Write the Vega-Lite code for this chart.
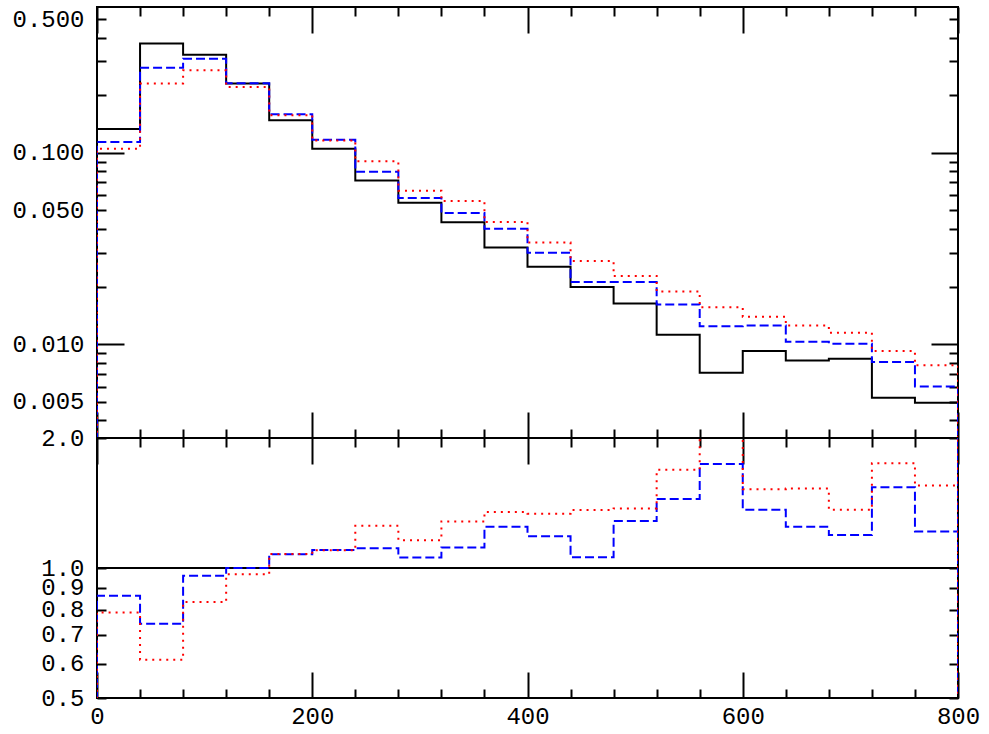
{
  "$schema": "https://vega.github.io/schema/vega-lite/v6.json",
  "padding": {"left": 10, "top": 5, "right": 0, "bottom": 0},
  "autosize": {"type": "pad"},
  "background": "white",
  "spacing": 0,
  "bounds": "flush",
  "config": {
    "view": {"stroke": "black", "strokeWidth": 2},
    "axis": {
      "labelFont": "Liberation Mono",
      "labelFontSize": 24,
      "labelColor": "black",
      "domain": false,
      "grid": false,
      "tickColor": "black",
      "tickWidth": 2,
      "labelOverlap": false,
      "labelFlush": false,
      "title": null
    }
  },
  "datasets": {
    "hist": [
      {"s": "data", "i": 0, "x": 0, "v": 0.0001},
      {"s": "data", "i": 1, "x": 0, "v": 0.133},
      {"s": "data", "i": 2, "x": 40, "v": 0.373},
      {"s": "data", "i": 3, "x": 80, "v": 0.325},
      {"s": "data", "i": 4, "x": 120, "v": 0.23},
      {"s": "data", "i": 5, "x": 160, "v": 0.148},
      {"s": "data", "i": 6, "x": 200, "v": 0.105},
      {"s": "data", "i": 7, "x": 240, "v": 0.0717},
      {"s": "data", "i": 8, "x": 280, "v": 0.0548},
      {"s": "data", "i": 9, "x": 320, "v": 0.0433},
      {"s": "data", "i": 10, "x": 360, "v": 0.032},
      {"s": "data", "i": 11, "x": 400, "v": 0.0254},
      {"s": "data", "i": 12, "x": 440, "v": 0.0199},
      {"s": "data", "i": 13, "x": 480, "v": 0.0163},
      {"s": "data", "i": 14, "x": 520, "v": 0.0112},
      {"s": "data", "i": 15, "x": 560, "v": 0.00708},
      {"s": "data", "i": 16, "x": 600, "v": 0.00919},
      {"s": "data", "i": 17, "x": 640, "v": 0.00822},
      {"s": "data", "i": 18, "x": 680, "v": 0.00838},
      {"s": "data", "i": 19, "x": 720, "v": 0.00524},
      {"s": "data", "i": 20, "x": 760, "v": 0.00493},
      {"s": "data", "i": 21, "x": 800, "v": 0.00493},
      {"s": "data", "i": 22, "x": 800, "v": 0.0001},
      {"s": "model A", "i": 0, "x": 0, "v": 0.0001},
      {"s": "model A", "i": 1, "x": 0, "v": 0.1137},
      {"s": "model A", "i": 2, "x": 40, "v": 0.278},
      {"s": "model A", "i": 3, "x": 80, "v": 0.31},
      {"s": "model A", "i": 4, "x": 120, "v": 0.231},
      {"s": "model A", "i": 5, "x": 160, "v": 0.159},
      {"s": "model A", "i": 6, "x": 200, "v": 0.117},
      {"s": "model A", "i": 7, "x": 240, "v": 0.0796},
      {"s": "model A", "i": 8, "x": 280, "v": 0.058},
      {"s": "model A", "i": 9, "x": 320, "v": 0.0484},
      {"s": "model A", "i": 10, "x": 360, "v": 0.0401},
      {"s": "model A", "i": 11, "x": 400, "v": 0.03},
      {"s": "model A", "i": 12, "x": 440, "v": 0.0211},
      {"s": "model A", "i": 13, "x": 480, "v": 0.0211},
      {"s": "model A", "i": 14, "x": 520, "v": 0.0161},
      {"s": "model A", "i": 15, "x": 560, "v": 0.01238},
      {"s": "model A", "i": 16, "x": 600, "v": 0.0125},
      {"s": "model A", "i": 17, "x": 640, "v": 0.01028},
      {"s": "model A", "i": 18, "x": 680, "v": 0.01004},
      {"s": "model A", "i": 19, "x": 720, "v": 0.00805},
      {"s": "model A", "i": 20, "x": 760, "v": 0.00601},
      {"s": "model A", "i": 21, "x": 800, "v": 0.00601},
      {"s": "model A", "i": 22, "x": 800, "v": 0.0001},
      {"s": "model B", "i": 0, "x": 0, "v": 0.0001},
      {"s": "model B", "i": 1, "x": 0, "v": 0.105},
      {"s": "model B", "i": 2, "x": 40, "v": 0.23},
      {"s": "model B", "i": 3, "x": 80, "v": 0.27},
      {"s": "model B", "i": 4, "x": 120, "v": 0.2205},
      {"s": "model B", "i": 5, "x": 160, "v": 0.157},
      {"s": "model B", "i": 6, "x": 200, "v": 0.116},
      {"s": "model B", "i": 7, "x": 240, "v": 0.0902},
      {"s": "model B", "i": 8, "x": 280, "v": 0.0633},
      {"s": "model B", "i": 9, "x": 320, "v": 0.0559},
      {"s": "model B", "i": 10, "x": 360, "v": 0.0435},
      {"s": "model B", "i": 11, "x": 400, "v": 0.034},
      {"s": "model B", "i": 12, "x": 440, "v": 0.0272},
      {"s": "model B", "i": 13, "x": 480, "v": 0.0227},
      {"s": "model B", "i": 14, "x": 520, "v": 0.01886},
      {"s": "model B", "i": 15, "x": 560, "v": 0.01556},
      {"s": "model B", "i": 16, "x": 600, "v": 0.0139},
      {"s": "model B", "i": 17, "x": 640, "v": 0.0125},
      {"s": "model B", "i": 18, "x": 680, "v": 0.01146},
      {"s": "model B", "i": 19, "x": 720, "v": 0.00919},
      {"s": "model B", "i": 20, "x": 760, "v": 0.00775},
      {"s": "model B", "i": 21, "x": 800, "v": 0.00775},
      {"s": "model B", "i": 22, "x": 800, "v": 0.0001}
    ],
    "ratio": [
      {"s": "model A", "i": 0, "x": 0, "r": 0.1},
      {"s": "model A", "i": 1, "x": 0, "r": 0.862},
      {"s": "model A", "i": 2, "x": 40, "r": 0.743},
      {"s": "model A", "i": 3, "x": 80, "r": 0.96},
      {"s": "model A", "i": 4, "x": 120, "r": 1.0},
      {"s": "model A", "i": 5, "x": 160, "r": 1.076},
      {"s": "model A", "i": 6, "x": 200, "r": 1.101},
      {"s": "model A", "i": 7, "x": 240, "r": 1.111},
      {"s": "model A", "i": 8, "x": 280, "r": 1.057},
      {"s": "model A", "i": 9, "x": 320, "r": 1.115},
      {"s": "model A", "i": 10, "x": 360, "r": 1.246},
      {"s": "model A", "i": 11, "x": 400, "r": 1.185},
      {"s": "model A", "i": 12, "x": 440, "r": 1.059},
      {"s": "model A", "i": 13, "x": 480, "r": 1.284},
      {"s": "model A", "i": 14, "x": 520, "r": 1.445},
      {"s": "model A", "i": 15, "x": 560, "r": 1.74},
      {"s": "model A", "i": 16, "x": 600, "r": 1.365},
      {"s": "model A", "i": 17, "x": 640, "r": 1.246},
      {"s": "model A", "i": 18, "x": 680, "r": 1.193},
      {"s": "model A", "i": 19, "x": 720, "r": 1.538},
      {"s": "model A", "i": 20, "x": 760, "r": 1.215},
      {"s": "model A", "i": 21, "x": 800, "r": 1.215},
      {"s": "model A", "i": 22, "x": 800, "r": 10},
      {"s": "model A", "i": 23, "x": 800, "r": 0.1},
      {"s": "model B", "i": 0, "x": 0, "r": 0.1},
      {"s": "model B", "i": 1, "x": 0, "r": 0.789},
      {"s": "model B", "i": 2, "x": 40, "r": 0.613},
      {"s": "model B", "i": 3, "x": 80, "r": 0.834},
      {"s": "model B", "i": 4, "x": 120, "r": 0.967},
      {"s": "model B", "i": 5, "x": 160, "r": 1.078},
      {"s": "model B", "i": 6, "x": 200, "r": 1.099},
      {"s": "model B", "i": 7, "x": 240, "r": 1.252},
      {"s": "model B", "i": 8, "x": 280, "r": 1.16},
      {"s": "model B", "i": 9, "x": 320, "r": 1.282},
      {"s": "model B", "i": 10, "x": 360, "r": 1.348},
      {"s": "model B", "i": 11, "x": 400, "r": 1.336},
      {"s": "model B", "i": 12, "x": 440, "r": 1.362},
      {"s": "model B", "i": 13, "x": 480, "r": 1.374},
      {"s": "model B", "i": 14, "x": 520, "r": 1.688},
      {"s": "model B", "i": 15, "x": 560, "r": 2.2},
      {"s": "model B", "i": 16, "x": 600, "r": 1.522},
      {"s": "model B", "i": 17, "x": 640, "r": 1.527},
      {"s": "model B", "i": 18, "x": 680, "r": 1.365},
      {"s": "model B", "i": 19, "x": 720, "r": 1.749},
      {"s": "model B", "i": 20, "x": 760, "r": 1.552},
      {"s": "model B", "i": 21, "x": 800, "r": 1.552},
      {"s": "model B", "i": 22, "x": 800, "r": 10},
      {"s": "model B", "i": 23, "x": 800, "r": 0.1}
    ],
    "unity": [{"ref": 1}]
  },
  "vconcat": [
    {
      "width": 861,
      "height": 431,
      "data": {"name": "hist"},
      "resolve": {"axis": {"x": "independent", "y": "independent"}},
      "layer": [
        {
          "mark": {"type": "line", "interpolate": "step-after", "clip": true, "strokeWidth": 2, "strokeCap": "butt"},
          "encoding": {
            "x": {
              "field": "x", "type": "quantitative",
              "scale": {"domain": [0, 800], "nice": false, "zero": false},
              "axis": {
                "orient": "bottom", "labels": false,
                "values": [0, 40, 80, 120, 160, 200, 240, 280, 320, 360, 400, 440, 480, 520, 560, 600, 640, 680, 720, 760, 800],
                "tickSize": {"condition": {"test": "datum.value % 200 === 0", "value": -26}, "value": -9}
              }
            },
            "y": {
              "field": "v", "type": "quantitative",
              "scale": {"type": "log", "domain": [0.00323, 0.578], "nice": false},
              "axis": {
                "orient": "left",
                "values": [0.004, 0.005, 0.006, 0.007, 0.008, 0.009, 0.01, 0.02, 0.03, 0.04, 0.05, 0.06, 0.07, 0.08, 0.09, 0.1, 0.2, 0.3, 0.4, 0.5],
                "labelExpr": "indexof([0.5, 0.1, 0.05, 0.01, 0.005], datum.value) >= 0 ? format(datum.value, '.3f') : ''",
                "tickSize": {"condition": {"test": "datum.value === 0.1 || datum.value === 0.01", "value": -27}, "value": -9},
                "labelPadding": {"condition": {"test": "datum.value === 0.1 || datum.value === 0.01", "value": 40}, "value": 22}
              }
            },
            "color": {"field": "s", "type": "nominal", "scale": {"domain": ["data", "model A", "model B"], "range": ["#000000", "#0000ff", "#ff0000"]}, "legend": null},
            "strokeDash": {"field": "s", "type": "nominal", "scale": {"domain": ["data", "model A", "model B"], "range": [[1, 0], [9, 4], [2, 5]]}, "legend": null},
            "order": {"field": "i", "type": "quantitative"}
          }
        },
        {
          "mark": {"type": "point", "opacity": 0},
          "encoding": {
            "x": {
              "field": "x", "type": "quantitative",
              "axis": {
                "orient": "top", "labels": false,
                "values": [0, 40, 80, 120, 160, 200, 240, 280, 320, 360, 400, 440, 480, 520, 560, 600, 640, 680, 720, 760, 800],
                "tickSize": {"condition": {"test": "datum.value % 200 === 0", "value": -26}, "value": -9}
              }
            },
            "y": {
              "field": "v", "type": "quantitative",
              "axis": {
                "orient": "right", "labels": false,
                "values": [0.004, 0.005, 0.006, 0.007, 0.008, 0.009, 0.01, 0.02, 0.03, 0.04, 0.05, 0.06, 0.07, 0.08, 0.09, 0.1, 0.2, 0.3, 0.4, 0.5],
                "tickSize": {"condition": {"test": "datum.value === 0.1 || datum.value === 0.01", "value": -27}, "value": -9}
              }
            }
          }
        }
      ]
    },
    {
      "width": 861,
      "height": 260,
      "resolve": {"axis": {"x": "independent", "y": "independent"}},
      "layer": [
        {
          "data": {"name": "unity"},
          "mark": {"type": "rule", "color": "black", "strokeWidth": 2},
          "encoding": {
            "y": {"field": "ref", "type": "quantitative", "axis": null}
          }
        },
        {
          "data": {"name": "ratio"},
          "mark": {"type": "line", "interpolate": "step-after", "clip": true, "strokeWidth": 2, "strokeCap": "butt"},
          "encoding": {
            "x": {
              "field": "x", "type": "quantitative",
              "scale": {"domain": [0, 800], "nice": false, "zero": false},
              "axis": {
                "orient": "bottom",
                "values": [0, 40, 80, 120, 160, 200, 240, 280, 320, 360, 400, 440, 480, 520, 560, 600, 640, 680, 720, 760, 800],
                "labelExpr": "datum.value % 200 === 0 ? format(datum.value, 'd') : ''",
                "tickSize": {"condition": {"test": "datum.value % 200 === 0", "value": -26}, "value": -9},
                "labelPadding": {"condition": {"test": "datum.value % 200 === 0", "value": 32}, "value": 15}
              }
            },
            "y": {
              "field": "r", "type": "quantitative",
              "scale": {"type": "log", "domain": [0.5, 2], "nice": false},
              "axis": {
                "orient": "left",
                "values": [0.5, 0.6, 0.7, 0.8, 0.9, 1, 2],
                "labelExpr": "format(datum.value, '.1f')",
                "tickSize": -9,
                "labelPadding": 22
              }
            },
            "color": {"field": "s", "type": "nominal", "scale": {"domain": ["data", "model A", "model B"], "range": ["#000000", "#0000ff", "#ff0000"]}, "legend": null},
            "strokeDash": {"field": "s", "type": "nominal", "scale": {"domain": ["data", "model A", "model B"], "range": [[1, 0], [9, 4], [2, 5]]}, "legend": null},
            "order": {"field": "i", "type": "quantitative"}
          }
        },
        {
          "data": {"name": "ratio"},
          "mark": {"type": "point", "opacity": 0},
          "encoding": {
            "x": {
              "field": "x", "type": "quantitative",
              "axis": {
                "orient": "top", "labels": false,
                "values": [0, 40, 80, 120, 160, 200, 240, 280, 320, 360, 400, 440, 480, 520, 560, 600, 640, 680, 720, 760, 800],
                "tickSize": {"condition": {"test": "datum.value % 200 === 0", "value": -26}, "value": -9}
              }
            },
            "y": {
              "field": "r", "type": "quantitative",
              "axis": {
                "orient": "right", "labels": false,
                "values": [0.5, 0.6, 0.7, 0.8, 0.9, 1, 2],
                "tickSize": -9
              }
            }
          }
        }
      ]
    }
  ]
}
